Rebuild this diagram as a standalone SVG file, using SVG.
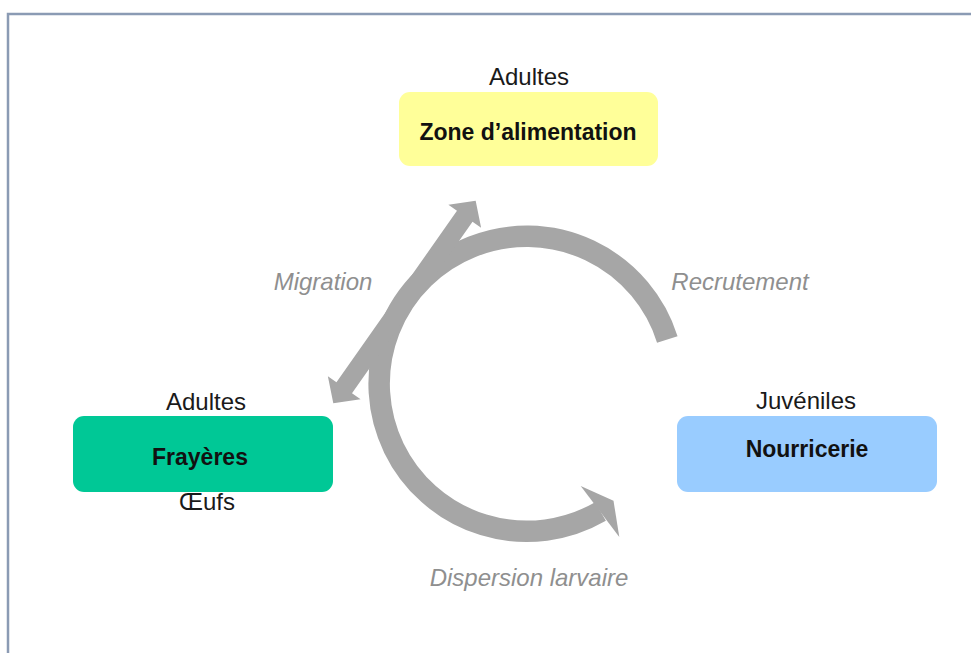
<svg xmlns="http://www.w3.org/2000/svg" width="971" height="653" viewBox="0 0 971 653">
  <style>
    .box-label { font-family: "Liberation Sans", Arial, sans-serif; font-size: 23px; font-weight: bold; fill: #111; text-anchor: middle; }
    .stage { font-family: "Liberation Sans", Arial, sans-serif; font-size: 24px; fill: #1a1a1a; text-anchor: middle; }
    .flow { font-family: "Liberation Sans", Arial, sans-serif; font-size: 24px; font-style: italic; fill: #8f8f8f; text-anchor: middle; }
    .arrow { fill: #a6a6a6; }
    .arc { fill: none; stroke: #a6a6a6; stroke-width: 21.5; stroke-linecap: butt; }
  </style>
  <rect width="971" height="653" fill="#ffffff"/>
  <!-- frame -->
  <path d="M8 653 V14 H971" fill="none" stroke="#8b9bb4" stroke-width="2.5"/>

  <g id="connectors">
    <!-- cycle arc: Recrutement -> top -> left -> Dispersion larvaire -->
    <path class="arc" d="M 667.3 339.4 A 147.5 147.5 0 1 0 600.5 511.5"/>
    <polygon class="arrow" points="580.7,486 613.5,500.8 619.3,536.9"/>
    <!-- Migration double arrow -->
    <polygon class="arrow" transform="translate(333.3 403.3) rotate(-54.9)"
      points="0,0 19,-20 19,-9.5 228.6,-9.5 228.6,-20 247.6,0 228.6,20 228.6,9.5 19,9.5 19,20"/>
  </g>

  <g id="zone-alimentation">
    <rect x="399" y="92" width="259" height="74" rx="11" fill="#ffff99"/>
    <text class="stage" x="529" y="85">Adultes</text>
    <text class="box-label" x="528" y="140">Zone d’alimentation</text>
  </g>

  <g id="frayeres">
    <rect x="73" y="416" width="260" height="76" rx="11" fill="#00c896"/>
    <text class="stage" x="206" y="410">Adultes</text>
    <text class="box-label" x="200" y="465">Frayères</text>
    <text class="stage" x="207" y="510">Œufs</text>
  </g>

  <g id="nourricerie">
    <rect x="677" y="416" width="260" height="76" rx="11" fill="#99ccff"/>
    <text class="stage" x="806" y="409">Juvéniles</text>
    <text class="box-label" x="807" y="457">Nourricerie</text>
  </g>

  <g id="flow-labels">
    <text class="flow" x="323" y="290">Migration</text>
    <text class="flow" x="740" y="290">Recrutement</text>
    <text class="flow" x="529" y="586">Dispersion larvaire</text>
  </g>
</svg>
